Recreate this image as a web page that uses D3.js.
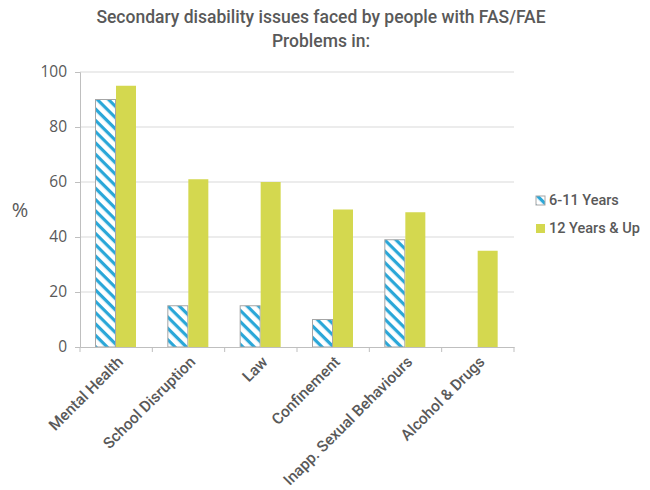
<!DOCTYPE html>
<html><head><meta charset="utf-8">
<script src="https://cdn.jsdelivr.net/npm/d3@7"></script>
<style>body{margin:0;background:#fff}svg{display:block}text{font-family:"Open Sans",sans-serif;fill:#595959}</style>
</head><body>
<script>
const categories = ["Mental Health","School Disruption","Law","Confinement","Inapp. Sexual Behaviours","Alcohol & Drugs"];
const seriesNames = ["6-11 Years","12 Years & Up"];
const young = [90,15,15,10,39,0];
const older = [95,61,60,50,49,35];
const yTicks = [0,20,40,60,80,100];
const titleLines = ["Secondary disability issues faced by people with FAS/FAE","Problems in:"];

const W=650,H=490;
const svg=d3.select("body").append("svg").attr("width",W).attr("height",H);
const defs=svg.append("defs");
const pat=defs.append("pattern").attr("id","hatch").attr("patternUnits","userSpaceOnUse")
  .attr("width",8).attr("height",8).attr("patternTransform","rotate(45)");
pat.append("rect").attr("width",8).attr("height",8).attr("fill","#fff");
pat.append("rect").attr("x",0).attr("y",0).attr("width",8).attr("height",3.2).attr("fill","#2aa7d8");

const x0=d3.scaleBand().domain(categories).range([80,514]).paddingInner(0).paddingOuter(0);
const y=d3.scaleLinear().domain([0,100]).range([347,72]);
const bw=20, pad=15;

// gridlines
svg.append("g").selectAll("line").data(yTicks.filter(d=>d>0)).join("line")
  .attr("x1",80).attr("x2",514).attr("y1",d=>y(d)).attr("y2",d=>y(d))
  .attr("stroke","#d9d9d9").attr("stroke-width",1);

// y axis
const ya=svg.append("g").attr("transform","translate(80,0)")
  .call(d3.axisLeft(y).tickValues(yTicks).tickSize(5).tickPadding(8));
ya.select(".domain").attr("stroke","#bfbfbf");
ya.selectAll(".tick line").attr("stroke","#bfbfbf");
ya.selectAll("text").style("font-size","15.5px").attr("fill","#595959");

// bars
const g=svg.append("g");
g.selectAll(".b1").data(categories).join("rect")
  .attr("x",(d)=>x0(d)+pad+0.5).attr("y",(d,i)=>y(young[i]))
  .attr("width",bw).attr("height",(d,i)=>y(0)-y(young[i]))
  .attr("fill","url(#hatch)").attr("stroke",(d,i)=>young[i]>0?"#a6a6a6":"none").attr("stroke-width",1);
g.selectAll(".b2").data(categories).join("rect")
  .attr("x",(d)=>x0(d)+pad+bw+1).attr("y",(d,i)=>y(older[i]))
  .attr("width",bw).attr("height",(d,i)=>y(0)-y(older[i]))
  .attr("fill","#d4d84f");

// x axis
const xa=svg.append("g").attr("transform","translate(0,347)")
  .call(d3.axisBottom(x0).tickSize(0).tickFormat(""));
xa.select(".domain").attr("stroke","#bfbfbf");
const tickPos=categories.map(c=>x0(c)).concat([x0.range()[1]]);
svg.append("g").selectAll("line").data(tickPos).join("line")
  .attr("x1",d=>d).attr("x2",d=>d).attr("y1",347).attr("y2",352).attr("stroke","#bfbfbf");
svg.append("g").selectAll("text").data(categories).join("text")
  .attr("transform",d=>`translate(${x0(d)+x0.bandwidth()/2+4},${359}) rotate(-45)`)
  .attr("text-anchor","end").attr("dy","0.35em").style("font-size","15.5px").style("font-family","Roboto").style("font-weight","500").text(d=>d);

// y title
svg.append("text").attr("x",20).attr("y",217).attr("text-anchor","middle").style("font-size","20px").text("%");

// title
svg.append("g").selectAll("text").data(titleLines).join("text")
  .attr("x",321).attr("y",(d,i)=>23+i*24).attr("text-anchor","middle")
  .style("font-family","Roboto").style("font-size","17.5px").style("font-weight","500").text(d=>d);

// legend
const leg=svg.append("g").attr("transform","translate(536,0)");
[ "url(#hatch)","#d4d84f"].forEach((f,i)=>{
  leg.append("rect").attr("x",0).attr("y",196+i*28).attr("width",9).attr("height",9)
    .attr("fill",f).attr("stroke",i===0?"#a6a6a6":"none");
  leg.append("text").attr("x",13).attr("y",205+i*28).style("font-size","14.5px").style("font-family","Roboto").style("font-weight","500").text(seriesNames[i]);
});
</script>
</body></html>
